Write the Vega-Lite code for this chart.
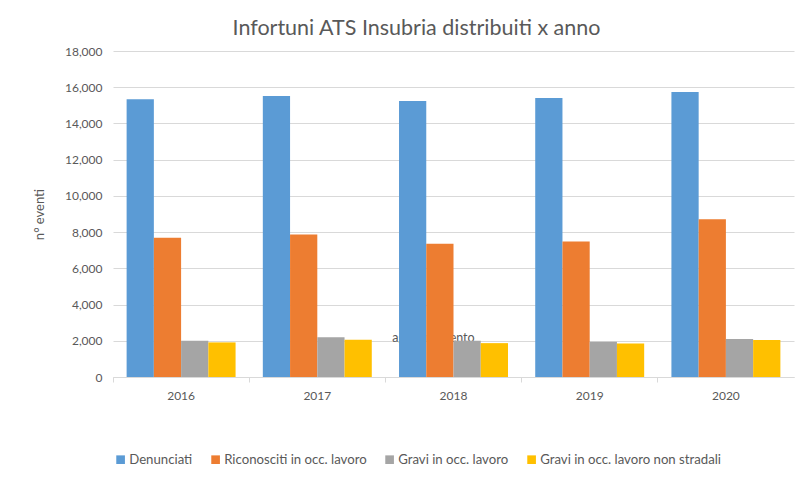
{
  "$schema": "https://vega.github.io/schema/vega-lite/v6.json",
  "autosize": "none",
  "width": 681,
  "height": 326,
  "padding": {"left": 113, "top": 51, "right": 7, "bottom": 100},
  "background": "white",
  "config": {
    "font": "Lato",
    "view": {"stroke": null},
    "axis": {"labelColor": "#595959", "titleColor": "#595959", "labelFont": "Lato", "titleFont": "Lato"},
    "legend": {"labelFont": "Lato"}
  },
  "title": {
    "text": "Infortuni ATS Insubria distribuiti x anno",
    "fontSize": 21.5,
    "fontWeight": "normal",
    "color": "#595959",
    "font": "Lato",
    "offset": 6,
    "dx": -37
  },
  "datasets": {
    "bars": [
      {"anno": "2016", "serie": "Denunciati", "valore": 15330},
      {"anno": "2016", "serie": "Riconosciti in occ. lavoro", "valore": 7690},
      {"anno": "2016", "serie": "Gravi in occ. lavoro", "valore": 2000},
      {"anno": "2016", "serie": "Gravi in occ. lavoro non stradali", "valore": 1910},
      {"anno": "2017", "serie": "Denunciati", "valore": 15520},
      {"anno": "2017", "serie": "Riconosciti in occ. lavoro", "valore": 7870},
      {"anno": "2017", "serie": "Gravi in occ. lavoro", "valore": 2190},
      {"anno": "2017", "serie": "Gravi in occ. lavoro non stradali", "valore": 2055},
      {"anno": "2018", "serie": "Denunciati", "valore": 15240},
      {"anno": "2018", "serie": "Riconosciti in occ. lavoro", "valore": 7355},
      {"anno": "2018", "serie": "Gravi in occ. lavoro", "valore": 2000},
      {"anno": "2018", "serie": "Gravi in occ. lavoro non stradali", "valore": 1870},
      {"anno": "2019", "serie": "Denunciati", "valore": 15410},
      {"anno": "2019", "serie": "Riconosciti in occ. lavoro", "valore": 7480},
      {"anno": "2019", "serie": "Gravi in occ. lavoro", "valore": 1945},
      {"anno": "2019", "serie": "Gravi in occ. lavoro non stradali", "valore": 1855},
      {"anno": "2020", "serie": "Denunciati", "valore": 15740},
      {"anno": "2020", "serie": "Riconosciti in occ. lavoro", "valore": 8705},
      {"anno": "2020", "serie": "Gravi in occ. lavoro", "valore": 2095},
      {"anno": "2020", "serie": "Gravi in occ. lavoro non stradali", "valore": 2040}
    ],
    "note": [
      {"anno": "2018", "valore": 2140, "testo": "aggiornamento"}
    ]
  },
  "encoding": {
    "x": {
      "field": "anno",
      "type": "nominal",
      "scale": {"paddingInner": 0, "paddingOuter": 0},
      "axis": {
        "title": null,
        "labelAngle": 0,
        "labelFontSize": 12,
        "labelPadding": 8,
        "bandPosition": 0,
        "domainColor": "#D9D9D9",
        "tickColor": "#D9D9D9",
        "tickSize": 5,
        "grid": false
      }
    },
    "y": {
      "field": "valore",
      "type": "quantitative",
      "scale": {"domain": [0, 18000], "nice": false},
      "axis": {
        "title": "n° eventi",
        "titleFontSize": 13,
        "titleFontWeight": "normal",
        "titlePadding": 18,
        "values": [0, 2000, 4000, 6000, 8000, 10000, 12000, 14000, 16000, 18000],
        "format": ",d",
        "labelFontSize": 12,
        "labelPadding": 11,
        "labelOverlap": false,
        "domain": false,
        "ticks": false,
        "grid": true,
        "gridColor": "#D9D9D9"
      }
    }
  },
  "layer": [
    {
      "data": {"name": "note"},
      "mark": {"type": "text", "fontSize": 12.5, "color": "#595959", "dx": -20, "baseline": "middle"},
      "encoding": {
        "text": {"field": "testo"}
      }
    },
    {
      "data": {"name": "bars"},
      "mark": {"type": "bar"},
      "encoding": {
        "xOffset": {
          "field": "serie",
          "type": "nominal",
          "sort": ["Denunciati", "Riconosciti in occ. lavoro", "Gravi in occ. lavoro", "Gravi in occ. lavoro non stradali"],
          "scale": {"paddingInner": 0, "paddingOuter": 0.5}
        },
        "color": {
          "field": "serie",
          "type": "nominal",
          "sort": ["Denunciati", "Riconosciti in occ. lavoro", "Gravi in occ. lavoro", "Gravi in occ. lavoro non stradali"],
          "scale": {
            "domain": ["Denunciati", "Riconosciti in occ. lavoro", "Gravi in occ. lavoro", "Gravi in occ. lavoro non stradali"],
            "range": ["#5B9BD5", "#ED7D31", "#A5A5A5", "#FFC000"]
          },
          "legend": {
            "title": null,
            "orient": "none",
            "legendX": 1,
            "legendY": 402,
            "direction": "horizontal",
            "symbolType": "square",
            "symbolSize": 75,
            "symbolStrokeWidth": 0,
            "labelFontSize": 13.2,
            "labelColor": "#595959",
            "labelOffset": 2,
            "columnPadding": 16,
            "labelLimit": 300
          }
        }
      }
    }
  ]
}
